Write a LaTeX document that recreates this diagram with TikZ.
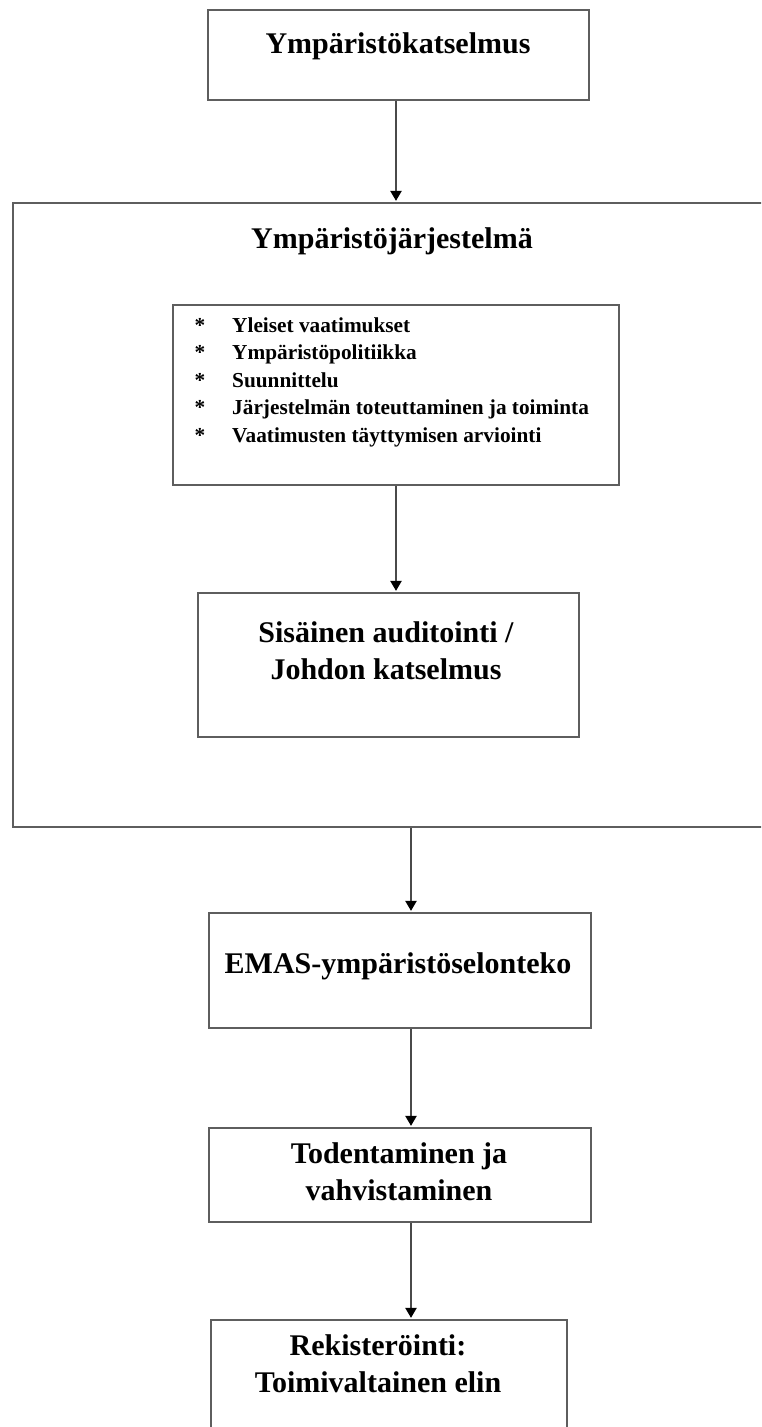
\documentclass[tikz,border=0pt]{standalone}
\usepackage{fontspec}
\setmainfont{Liberation Serif}
\usetikzlibrary{arrows.meta}

\definecolor{frame}{HTML}{5E5E5E}
\definecolor{wire}{HTML}{4A4A4A}

\tikzset{
  box/.style={draw=frame, line width=2.6pt, rectangle, inner sep=0pt, fill=white},
  bigtext/.style={font=\fontsize{30}{37}\selectfont\bfseries, anchor=base, inner sep=0pt},
  itemtext/.style={font=\fontsize{21.3}{27.5}\selectfont\bfseries, anchor=base west, inner sep=0pt},
  star/.style={font=\fontsize{21.3}{27.5}\selectfont\bfseries, anchor=base, inner sep=0pt},
  flow/.style={draw=wire, line width=2.2pt,
    -{Triangle[width=11pt,length=10pt,color=black,fill=black]}, shorten >=0.8pt},
}

\begin{document}
\begin{tikzpicture}[x=1pt, y=-1pt]
  \clip (0,0) rectangle (761,1427);
  \fill[white] (0,0) rectangle (761,1427);

  % frames
  \node[box, minimum width=381pt, minimum height=90pt]  (review) at (398.5,55) {};
  \node[box, minimum width=777pt, minimum height=624pt] (ems)    at (401.5,515) {};
  \node[box, minimum width=446pt, minimum height=180pt] (parts)  at (396,395) {};
  \node[box, minimum width=381pt, minimum height=144pt] (audit)  at (388.5,665) {};
  \node[box, minimum width=382pt, minimum height=115pt] (emas)   at (400,970.5) {};
  \node[box, minimum width=382pt, minimum height=94pt]  (verify) at (400,1175) {};
  \node[box, minimum width=356pt, minimum height=160pt] (reg)    at (389,1400) {};

  % headings
  \node[bigtext] (t-review) at (398,53)  {Ympäristökatselmus};
  \node[bigtext] (t-ems)    at (392,248) {Ympäristöjärjestelmä};
  \node[bigtext] (t-audit1) at (386,642) {Sisäinen auditointi /};
  \node[bigtext] (t-audit2) at (386,679) {Johdon katselmus};
  \node[bigtext] (t-emas)   at (398,973) {EMAS-ympäristöselonteko};
  \node[bigtext] (t-ver1)   at (399,1163) {Todentaminen ja};
  \node[bigtext] (t-ver2)   at (399,1200) {vahvistaminen};
  \node[bigtext] (t-reg1)   at (378,1355) {Rekisteröinti:};
  \node[bigtext] (t-reg2)   at (378,1392) {Toimivaltainen elin};

  % list of system parts
  \foreach \y/\txt [count=\i] in {
      332/Yleiset vaatimukset,
      359.5/Ympäristöpolitiikka,
      387/Suunnittelu,
      414.5/Järjestelmän toteuttaminen ja toiminta,
      442/Vaatimusten täyttymisen arviointi} {
    \node[star] (s\i) at (200,\y) {*};
    \node[itemtext] (i\i) at (232,\y) {\txt};
  }

  % connector axes
  \coordinate (ax1) at (396,0);
  \coordinate (ax2) at (411,0);

  \draw[flow] (review.south -| ax1) -- (ems.north -| ax1);
  \draw[flow] (parts.south -| ax1) -- (audit.north -| ax1);
  \draw[flow] (ems.south -| ax2) -- (emas.north -| ax2);
  \draw[flow] (emas.south -| ax2) -- (verify.north -| ax2);
  \draw[flow] (verify.south -| ax2) -- (reg.north -| ax2);
\end{tikzpicture}
\end{document}
